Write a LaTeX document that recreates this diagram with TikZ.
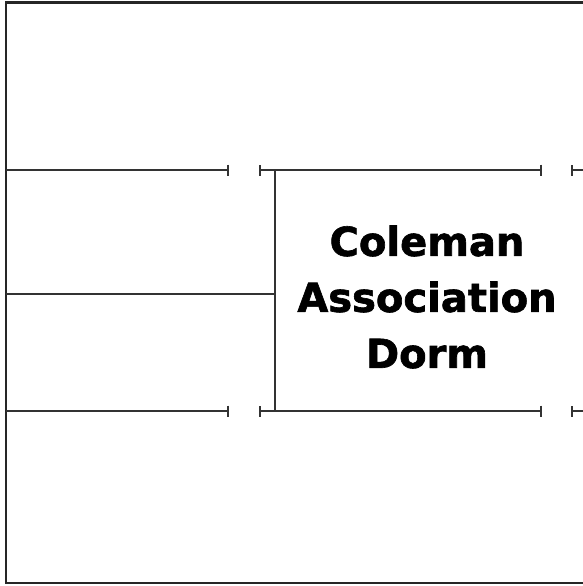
\documentclass[tikz,border=0pt]{standalone}
\usepackage{fontspec}
\setmainfont{DejaVu Sans}[BoldFeatures={FakeBold=1.6}]
\usepackage{tikz}
\usetikzlibrary{arrows.meta, positioning, calc}
\tikzstyle{frame} = [line width=2.2pt, draw=black!85]
\tikzstyle{wall} = [line width=1.7pt, draw=black!80]
\tikzstyle{barred} = [wall, {Bar[width=11pt,line width=1.7pt]}-{Bar[width=11pt,line width=1.7pt]}]
\tikzstyle{barend} = [wall, -{Bar[width=11pt,line width=1.7pt]}]
\tikzstyle{barstart} = [wall, {Bar[width=11pt,line width=1.7pt]}-]
\tikzstyle{label} = [align=center, text=black, font=\fontsize{40}{56}\selectfont\bfseries]

\begin{document}
\begin{tikzpicture}[x=1pt, y=-1pt]
    \useasboundingbox (0,0) rectangle (583,586);
    \clip (0,0) rectangle (583,586);
    % outer frame, open to the right
    \draw [frame] (600,2.5) -- (6,2.5) -- (6,583) -- (600,583);

    % corridor walls
    \coordinate (topL) at (6,170);
    \coordinate (topM) at (229,170);
    \coordinate (topR) at (259,170);
    \coordinate (topE) at (542,170);
    \coordinate (topF) at (571,170);
    \coordinate (botL) at (6,411);
    \coordinate (botM) at (229,411);
    \coordinate (botR) at (259,411);
    \coordinate (botE) at (542,411);
    \coordinate (botF) at (571,411);
    \coordinate (midL) at (6,294);
    \coordinate (midR) at (275,294);

    \draw [barend] (topL) -- (topM);
    \draw [barred] (topR) -- (topE);
    \draw [barstart] (topF) -- (600,170);
    \draw [barend] (botL) -- (botM);
    \draw [barred] (botR) -- (botE);
    \draw [barstart] (botF) -- (600,411);
    \draw [wall] (midL) -- (midR);
    \draw [wall] (275,170) -- (275,411);

    \node (dorm) [label] at (427,297) {Coleman\\Association\\Dorm};
\end{tikzpicture}
\end{document}
